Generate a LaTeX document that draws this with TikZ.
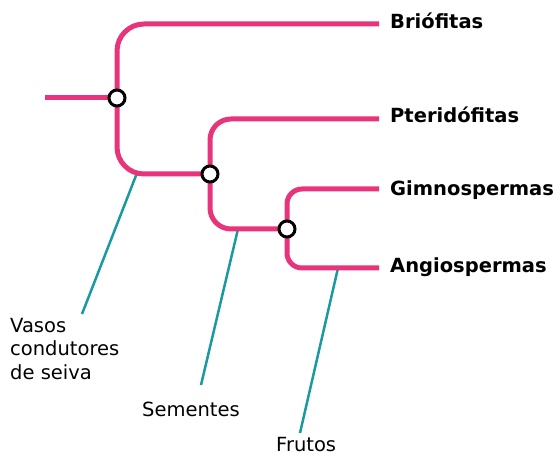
\documentclass[tikz,border=0pt]{standalone}
\usepackage{fontspec}
\setmainfont{DejaVu Sans}
\usepackage{xcolor}
\usetikzlibrary{backgrounds}

\definecolor{cladepink}{HTML}{E8347A}
\definecolor{traitteal}{HTML}{1A9AA0}

\begin{document}
\begin{tikzpicture}[
    x=1pt, y=-1pt,
    font=\fontsize{19.5}{23.5}\selectfont,
    branch/.style={draw=cladepink, line width=5pt},
    trait/.style={draw=traitteal, line width=2.5pt},
    knot/.style={circle, draw=black, fill=white, line width=3pt,
                 minimum size=16pt, inner sep=0pt},
    taxon/.style={anchor=base west, inner sep=0pt, font=\fontsize{19.5}{23.5}\selectfont\bfseries},
    feature/.style={anchor=base west, inner sep=0pt, align=left},
    ]
\useasboundingbox (0,0) rectangle (557,454);

% ---- branching points ----
\node[knot] (k1) at (117,98) {};
\node[knot] (k2) at (210,174) {};
\node[knot] (k3) at (287,229) {};

% ---- tips and taxa ----
\coordinate (root) at (45,98);
\coordinate (eBrio) at (379,24);
\coordinate (ePter) at (379,119);
\coordinate (eGimn) at (379,189);
\coordinate (eAngi) at (379,268);
\node[taxon] (brio) at (390,29) {Briófitas};
\node[taxon] (pter) at (390,123) {Pteridófitas};
\node[taxon] (gimn) at (390,196) {Gimnospermas};
\node[taxon] (angi) at (390,273) {Angiospermas};

% ---- new features ----
\coordinate (m1) at (137,173);
\coordinate (m2) at (238,229);
\coordinate (m3) at (338,268);
\coordinate (v1) at (82,314);
\coordinate (v2) at (201,385);
\coordinate (v3) at (300,433);
% base anchor sits on the last line of a multi-line node
\node[feature] (vasos) at (10,379) {Vasos\\condutores\\de seiva};
\node[feature] (sem) at (142,416) {Sementes};
\node[feature] (frut) at (276,451) {Frutos};

% ---- edges ----
\begin{scope}[on background layer]
  \draw[trait] (m1) -- (v1);
  \draw[trait] (m2) -- (v2);
  \draw[trait] (m3) -- (v3);
  \draw[branch] (root) -- (k1.center);
  \draw[branch, rounded corners=27pt] (eBrio) -| (k1.center) |- (k2.center);
  \draw[branch, rounded corners=21pt] (ePter) -| (k2.center) |- (k3.center);
  \draw[branch, rounded corners=15pt] (eGimn) -| (k3.center) |- (eAngi);
\end{scope}
\end{tikzpicture}
\end{document}
